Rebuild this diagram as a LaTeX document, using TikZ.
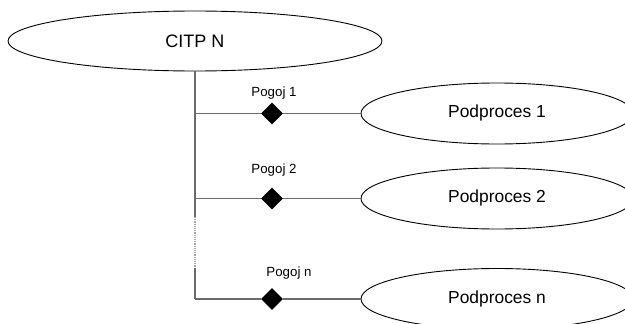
\documentclass[tikz,border=0pt]{standalone}
\usepackage{fontspec}
\setmainfont{Liberation Sans}
\usetikzlibrary{shapes.geometric}
\definecolor{wire}{gray}{0.42}
\tikzset{
  x=1pt, y=1pt,
  proc/.style={ellipse, draw=black, line width=0.9pt, inner sep=0pt},
  cond/.style={diamond, fill=black, draw=none, inner sep=0pt, minimum size=22pt},
  condlabel/.style={inner sep=0pt, font=\fontsize{13.3}{15}\selectfont},
  wireline/.style={draw=wire, line width=1.2pt},
}
\begin{document}
\begin{tikzpicture}
\useasboundingbox (0,0) rectangle (625,-324);
\clip (0,0) rectangle (625,-324);

% main process and sub-processes
\node[proc, minimum width=374pt, minimum height=60pt,
      font=\fontsize{18}{21}\selectfont] (citp) at (195,-41) {CITP N};
\node[proc, minimum width=272pt, minimum height=61pt,
      font=\fontsize{17.4}{20}\selectfont] (p1) at (497,-113.5) {Podproces 1};
\node[proc, minimum width=272pt, minimum height=61pt,
      font=\fontsize{17.4}{20}\selectfont] (p2) at (497,-198.5) {Podproces 2};
\node[proc, minimum width=272pt, minimum height=61pt,
      font=\fontsize{17.4}{20}\selectfont] (pn) at (497,-299) {Podproces n};

% junctions on the trunk line
\coordinate (j1) at (195,-113.5);
\coordinate (j2) at (195,-198.5);
\coordinate (g1) at (195,-217);
\coordinate (g2) at (195,-268);
\coordinate (j3) at (195,-299);

% condition diamonds and their labels
\node[cond] (d1) at (272,-113.5) {};
\node[cond] (d2) at (272,-198.5) {};
\node[cond] (dn) at (272,-299) {};
\node[condlabel] (l1) at (274,-93) {Pogoj 1};
\node[condlabel] (l2) at (274,-170) {Pogoj 2};
\node[condlabel] (ln) at (289,-273) {Pogoj n};

% trunk
\draw[wireline] (citp.south) -- (g1);
\draw[wire!60, line width=1.2pt, densely dotted] (g1) -- (g2);
\draw[wireline] (g2) -- (j3);

% branches
\draw[wireline] (j1) -- (d1.west) (d1.east) -- (p1.west);
\draw[wireline] (j2) -- (d2.west) (d2.east) -- (p2.west);
\draw[wireline] (j3) -- (dn.west) (dn.east) -- (pn.west);
\end{tikzpicture}
\end{document}
